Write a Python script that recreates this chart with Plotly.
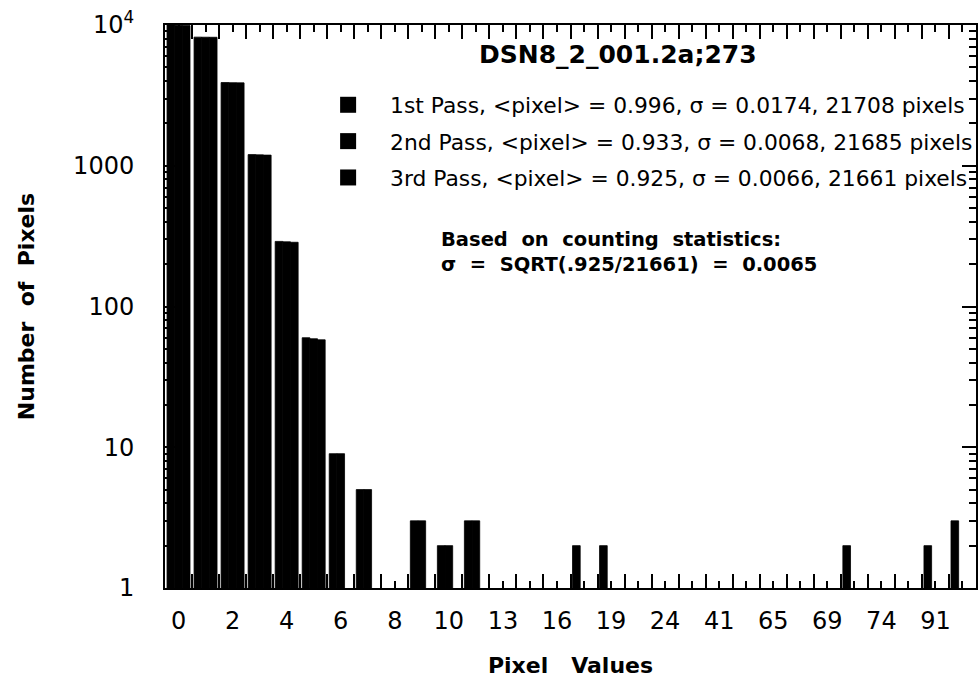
import plotly.graph_objects as go

# Histogram bins (category names) and tick labels
categories = ["0", "1", "2", "3", "4", "5", "6", "7", "8", "9", "10", "11", "13", "14",
              "16", "17", "19", "21", "24", "32", "41", "52", "65", "67", "69", "71",
              "74", "82", "91", "97"]
tick_labels = ["0", "", "2", "", "4", "", "6", "", "8", "", "10", "", "13", "", "16", "",
               "19", "", "24", "", "41", "", "65", "", "69", "", "74", "", "91", ""]

pass1 = [10000, 8200, 3900, 1200, 290, 60, 9, 5, None, 3, 2, 3, None, None, None, 2,
         2, None, None, None, None, None, None, None, None, 2, None, None, 2, 3]
pass2 = [9950, 8190, 3890, 1195, 288, 59, 9, 5, None, 3, 2, 3, None, None, None, None,
         None, None, None, None, None, None, None, None, None, None, None, None, None, None]
pass3 = [9900, 8180, 3880, 1190, 286, 58, None, None, None, None, None, None, None, None,
         None, None, None, None, None, None, None, None, None, None, None, None, None,
         None, None, None]

series_names = [
    "1st Pass, &lt;pixel&gt; = 0.996, σ = 0.0174, 21708 pixels",
    "2nd Pass, &lt;pixel&gt; = 0.933, σ = 0.0068, 21685 pixels",
    "3rd Pass, &lt;pixel&gt; = 0.925, σ = 0.0066, 21661 pixels",
]

y_tickvals = [1, 10, 100, 1000, 10000]
y_ticktext = ["1", "10", "100", "1000", "10<sup>4</sup>"]
y_minor = [v * m for v in y_tickvals[:-1] for m in range(2, 10)]

FONT = "DejaVu Sans"
fig = go.Figure()
for i, (vals, name) in enumerate(zip([pass1, pass2, pass3], series_names)):
    fig.add_trace(go.Bar(x=categories, y=vals, name=name,
                         marker=dict(color="black", line=dict(width=0.8, color="black")),
                         legendgroup=f"g{i}", showlegend=False, hoverinfo="x+y"))
    # legend entry with a larger square symbol
    fig.add_trace(go.Scatter(x=[None], y=[None], name=name, mode="markers",
                             marker=dict(symbol="square", size=16, color="black"),
                             legendgroup=f"g{i}", showlegend=True))

# invisible helper trace for the boundary tick axis
fig.add_trace(go.Scatter(x=categories, y=[1] * len(categories), xaxis="x2", mode="markers",
                         marker=dict(opacity=0), showlegend=False, hoverinfo="skip"))

fig.update_layout(
    width=979, height=686,
    margin=dict(l=165, r=3, t=25, b=98, autoexpand=False),
    paper_bgcolor="white", plot_bgcolor="white",
    barmode="group", bargap=0.15, bargroupgap=0.0,
    font=dict(family=FONT, color="black"),
    showlegend=True,
    legend=dict(x=0.174, y=0.895, xanchor="left", yanchor="top", bgcolor="rgba(0,0,0,0)",
                font=dict(size=21.8, family=FONT), traceorder="grouped", tracegroupgap=5,
                itemwidth=74),
    xaxis=dict(type="category", categoryorder="array", categoryarray=categories,
               range=[-0.5, len(categories) - 0.5],
               tickmode="array", tickvals=categories, ticktext=tick_labels,
               ticks="inside", ticklen=7, tickwidth=2, tickcolor="black",
               showline=True, linewidth=2, linecolor="black", mirror="ticks",
               showgrid=False, zeroline=False, ticklabelstandoff=10,
               tickfont=dict(size=24, family=FONT),
               title=dict(text="<b>Pixel\u00a0\u00a0\u00a0Values</b>", font=dict(size=22, family=FONT),
                          standoff=24)),
    xaxis2=dict(type="category", categoryorder="array", categoryarray=categories,
                range=[-0.5, len(categories) - 0.5], overlaying="x", anchor="y", side="bottom",
                tickson="boundaries", ticks="inside", ticklen=14, tickwidth=2, tickcolor="black",
                showticklabels=False, showgrid=False, showline=False, mirror="ticks"),
    yaxis=dict(type="log", range=[0, 4], tickmode="array", tickvals=y_tickvals, ticktext=y_ticktext,
               ticks="inside", ticklen=14, tickwidth=2, tickcolor="black",
               minor=dict(tickmode="array", tickvals=y_minor, ticks="inside", ticklen=7,
                          tickwidth=2, tickcolor="black", showgrid=False),
               showline=True, linewidth=2, linecolor="black", mirror="ticks",
               showgrid=False, zeroline=False, ticklabelstandoff=24,
               tickfont=dict(size=24, family=FONT),
               title=dict(text="<b>Number\u00a0\u00a0of\u00a0\u00a0Pixels</b>", font=dict(size=22, family=FONT),
                          standoff=32)),
)

fig.add_annotation(text="<b>DSN8_2_001.2a;273</b>", xref="paper", yref="paper",
                   x=0.558, y=0.948, xanchor="center", yanchor="middle", showarrow=False,
                   font=dict(size=25, family=FONT))
fig.add_annotation(text="<b>Based\u00a0\u00a0on\u00a0\u00a0counting\u00a0\u00a0statistics:</b><br>"
                        "<b>σ\u00a0\u00a0=\u00a0\u00a0SQRT(.925/21661)\u00a0\u00a0=\u00a0\u00a00.0065</b>",
                   xref="paper", yref="paper", x=0.338, y=0.643, xanchor="left", yanchor="top",
                   align="left", showarrow=False, font=dict(size=19.5, family=FONT))

fig.write_html("out.html")
